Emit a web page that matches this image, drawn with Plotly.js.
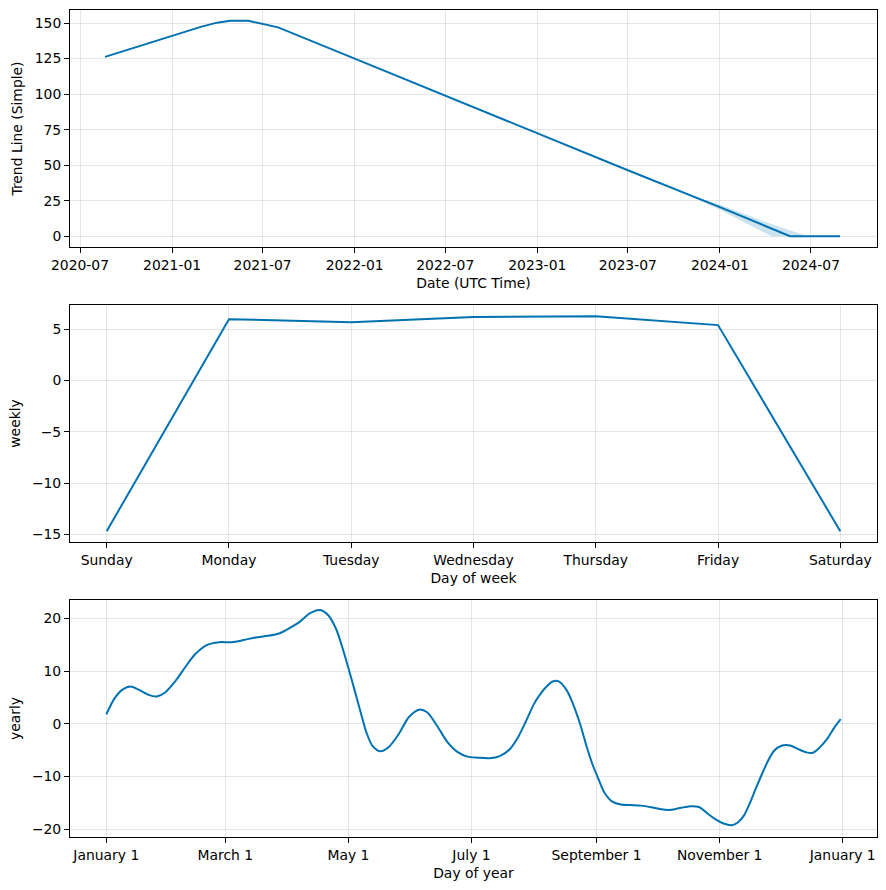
<!DOCTYPE html>
<html>
<head>
<meta charset="utf-8">
<script src="https://cdn.plot.ly/plotly-3.0.1.min.js"></script>
<style>html,body{margin:0;padding:0;background:#fff;}#chart{width:886px;height:890px;}</style>
</head>
<body>
<div id="chart"></div>
<script>
// ---- Trend panel ----
const trendDates = ['2020-08-20','2021-01-01','2021-03-01','2021-04-01','2021-04-27','2021-06-02','2021-07-01','2021-08-01','2022-01-01','2022-07-01','2023-01-01','2023-07-01','2024-01-01','2024-05-20','2024-08-28'];
const trendValues = [126.2,141.0,147.5,150.3,151.7,151.7,149.4,147.0,125.0,98.8,72.5,46.4,20.5,0,0];
const bandDates = ['2023-10-15','2024-01-01','2024-04-13','2024-05-20','2024-06-25','2024-08-28'];
const bandUpper = [31.2,22.1,8.6,4.3,0,0];
const bandLower = [31.2,18.6,0,0,0,0];

// ---- Weekly panel ----
const weekDays = ['Sunday','Monday','Tuesday','Wednesday','Thursday','Friday','Saturday'];
const weeklyValues = [-14.7,5.97,5.68,6.17,6.26,5.39,-14.7];

// ---- Yearly panel (day of year counted from January 1) ----
const yearDay = [0,4,8,12,16,21,25,29,34,39,44,50,56,62,68,74,80,86,91,96,101,106,110,114,117,120,123,126,129,132,136,140,145,150,155,159,164,169,174,179,184,190,195,200,204,208,212,215,218,221,224,228,231,235,238,241,244,247,251,255,260,265,270,275,280,285,290,294,298,302,306,310,313,316,319,322,325,328,331,335,339,343,347,350,353,357,361,364];
const yearlyValues = [1.8,4.8,6.5,7.1,6.5,5.5,5.2,5.9,8.0,10.7,13.2,15.0,15.5,15.5,15.9,16.4,16.7,17.2,18.2,19.4,21.0,21.6,20.6,17.9,14.5,10.6,6.5,2.3,-1.7,-4.2,-5.2,-4.4,-1.9,1.3,2.7,2.2,-0.4,-3.4,-5.3,-6.2,-6.4,-6.5,-6.1,-4.8,-2.6,0.5,3.8,5.6,7.0,8.0,8.1,6.5,4.1,-0.2,-4.2,-7.7,-10.5,-13.1,-14.8,-15.3,-15.4,-15.5,-15.8,-16.2,-16.3,-15.9,-15.6,-15.8,-17.0,-18.1,-18.9,-19.2,-18.7,-17.4,-15.0,-12.2,-9.5,-7.0,-5.1,-4.1,-4.1,-4.8,-5.4,-5.5,-4.7,-3.0,-0.6,0.9];
const yearTickDates = ['2017-01-01','2017-03-01','2017-05-01','2017-07-01','2017-09-01','2017-11-01','2018-01-01'];
const yearTickLabels = ['January 1','March 1','May 1','July 1','September 1','November 1','January 1'];

const yearDates = yearDay.map(d => new Date(Date.UTC(2017, 0, 1 + d)).toISOString().slice(0, 10));

const BLUE = '#0072B2';
const FONT = {family: 'DejaVu Sans, sans-serif', size: 13.9, color: '#000'};

const traces = [
  {x: bandDates.concat(bandDates.slice().reverse()), y: bandUpper.concat(bandLower.slice().reverse()),
   fill: 'toself', fillcolor: 'rgba(0,114,178,0.2)', line: {width: 0}, mode: 'lines',
   xaxis: 'x', yaxis: 'y', showlegend: false, hoverinfo: 'skip'},
  {x: trendDates, y: trendValues, mode: 'lines', line: {color: BLUE, width: 2},
   xaxis: 'x', yaxis: 'y', showlegend: false},
  {x: weekDays, y: weeklyValues, mode: 'lines', line: {color: BLUE, width: 2},
   xaxis: 'x2', yaxis: 'y2', showlegend: false},
  {x: yearDates, y: yearlyValues, mode: 'lines', line: {color: BLUE, width: 2, shape: 'spline', smoothing: 0.8},
   xaxis: 'x3', yaxis: 'y3', showlegend: false}
];

const axCommon = {
  showline: true, linecolor: '#000', linewidth: 1, mirror: true,
  ticks: 'outside', ticklen: 5, tickcolor: '#000', tickwidth: 1,
  showgrid: true, gridcolor: 'rgba(128,128,128,0.2)', gridwidth: 1,
  zeroline: false, tickfont: FONT
};

const layout = {
  width: 886, height: 890,
  paper_bgcolor: '#fff', plot_bgcolor: '#fff',
  margin: {l: 70, r: 9, t: 10, b: 53},
  font: FONT,
  showlegend: false,
  xaxis: Object.assign({}, axCommon, {
    domain: [0, 1], anchor: 'y', type: 'date',
    range: ['2020-06-11', '2024-11-10'], tick0: '2020-07-01', dtick: 'M6', tickformat: '%Y-%m',
    title: {text: 'Date (UTC Time)', font: FONT, standoff: 6}
  }),
  yaxis: Object.assign({}, axCommon, {
    domain: [0.7134, 1], anchor: 'x', range: [-7.6, 159.2],
    tickvals: [0, 25, 50, 75, 100, 125, 150],
    title: {text: 'Trend Line (Simple)', font: FONT, standoff: 8}
  }),
  xaxis2: Object.assign({}, axCommon, {
    domain: [0, 1], anchor: 'y2', type: 'category', range: [-0.3, 6.3],
    title: {text: 'Day of week', font: FONT, standoff: 6}
  }),
  yaxis2: Object.assign({}, axCommon, {
    domain: [0.3567, 0.6433], anchor: 'x2', range: [-15.75, 7.35],
    tickvals: [-15, -10, -5, 0, 5],
    title: {text: 'weekly', font: FONT, standoff: 8}
  }),
  xaxis3: Object.assign({}, axCommon, {
    domain: [0, 1], anchor: 'y3', type: 'date',
    range: ['2016-12-14', '2018-01-18'],
    tickvals: yearTickDates, ticktext: yearTickLabels,
    title: {text: 'Day of year', font: FONT, standoff: 6}
  }),
  yaxis3: Object.assign({}, axCommon, {
    domain: [0, 0.2866], anchor: 'x3', range: [-21.45, 23.5],
    tickvals: [-20, -10, 0, 10, 20],
    title: {text: 'yearly', font: FONT, standoff: 8}
  })
};

Plotly.newPlot('chart', traces, layout, {displayModeBar: false, staticPlot: true});
</script>
</body>
</html>
